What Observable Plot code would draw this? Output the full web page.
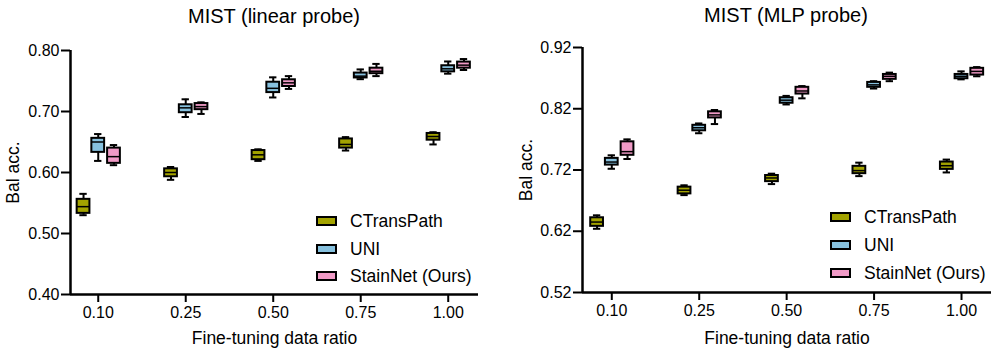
<!DOCTYPE html>
<html><head><meta charset="utf-8">
<script src="https://cdn.jsdelivr.net/npm/d3@7"></script>
<script src="https://cdn.jsdelivr.net/npm/@observablehq/plot@0.6"></script>
<style>
body{margin:0;background:#fff;font-family:"Liberation Sans",Arial,sans-serif;}
#root{position:relative;width:997px;height:350px;overflow:hidden;}
.panel{position:absolute;top:0;}
.title{position:absolute;font-size:20px;line-height:22px;color:#000;white-space:nowrap;transform:translateX(-50%);}
.li{position:absolute;white-space:nowrap;display:flex;align-items:center;font-size:17.5px;line-height:20px;color:#000;}
.sw{width:17px;height:6px;border:2px solid #000;margin-right:13px;}
</style></head>
<body><div id="root"></div>
<script>
const ratios = ["0.10","0.25","0.50","0.75","1.00"];
const methods = ["CTransPath","UNI","StainNet (Ours)"];
const colors = ["#a3a300","#87c1de","#f09ac6"];
const titles = ["MIST (linear probe)","MIST (MLP probe)"];
const yLabel = "Bal acc.";
const xLabel = "Fine-tuning data ratio";
const linearTicks = [0.40,0.50,0.60,0.70,0.80];
const mlpTicks = [0.52,0.62,0.72,0.82,0.92];
// each entry: [min, q1, median, q3, max] per ratio
const linearCTransPath = [[0.530,0.533,0.544,0.556,0.565],[0.588,0.593,0.600,0.606,0.609],[0.619,0.621,0.629,0.636,0.638],[0.636,0.640,0.646,0.655,0.658],[0.646,0.653,0.659,0.664,0.666]];
const linearUNI = [[0.619,0.633,0.650,0.656,0.663],[0.691,0.698,0.706,0.711,0.720],[0.723,0.731,0.738,0.748,0.756],[0.753,0.755,0.758,0.763,0.769],[0.762,0.765,0.770,0.775,0.782]];
const linearStainNet = [[0.612,0.615,0.626,0.640,0.645],[0.696,0.703,0.708,0.713,0.715],[0.737,0.741,0.747,0.752,0.758],[0.758,0.762,0.766,0.771,0.778],[0.768,0.771,0.776,0.781,0.786]];
const mlpCTransPath = [[0.624,0.628,0.635,0.642,0.646],[0.679,0.681,0.687,0.692,0.695],[0.697,0.701,0.707,0.711,0.714],[0.710,0.714,0.719,0.726,0.732],[0.716,0.721,0.727,0.733,0.737]];
const mlpUNI = [[0.722,0.728,0.733,0.739,0.744],[0.780,0.784,0.789,0.793,0.796],[0.827,0.829,0.834,0.838,0.841],[0.853,0.855,0.859,0.863,0.865],[0.868,0.869,0.873,0.876,0.881]];
const mlpStainNet = [[0.738,0.744,0.750,0.766,0.770],[0.795,0.805,0.810,0.815,0.818],[0.837,0.844,0.849,0.855,0.857],[0.865,0.868,0.873,0.876,0.879],[0.873,0.875,0.881,0.886,0.888]];

const offsets = [-0.168, 0, 0.18];
const hw = 0.073, cap = 0.042;
const FONT = "'Liberation Sans', Arial, sans-serif";

function panel(cfg) {
  const rows = [];
  cfg.stats.forEach((arr, j) => arr.forEach((s, i) => rows.push({
    ratio: ratios[i], method: methods[j], x: i + offsets[j],
    min: s[0], q1: s[1], med: s[2], q3: s[3], max: s[4]
  })));
  return Plot.plot({
    width: cfg.width, height: 350,
    marginLeft: cfg.ml, marginRight: cfg.mr, marginTop: cfg.mt, marginBottom: cfg.mb,
    style: {fontFamily: FONT, fontSize: "16px", color: "#000", background: "transparent", overflow: "visible"},
    x: {domain: cfg.xDomain, axis: null},
    y: {domain: [cfg.ticks[0], cfg.ticks[cfg.ticks.length - 1]], axis: null},
    color: {domain: methods, range: colors},
    marks: [
      Plot.axisX(ratios.map((r, i) => i), {tickFormat: i => ratios[i], tickSize: 8, tickPadding: 4, strokeWidth: 2, fontSize: 16, label: null}),
      Plot.axisY(cfg.ticks, {tickFormat: d => d.toFixed(2), tickSize: 9, tickPadding: 2, strokeWidth: 2, fontSize: 16, label: null}),
      Plot.ruleX([cfg.xDomain[0]], {strokeWidth: 2.5, stroke: "#000"}),
      Plot.ruleY([cfg.ticks[0]], {strokeWidth: 2.5, stroke: "#000"}),
      Plot.ruleX(rows, {x: "x", y1: "min", y2: "max", stroke: "#000", strokeWidth: 2}),
      Plot.ruleY(rows, {y: "min", x1: d => d.x - cap, x2: d => d.x + cap, stroke: "#000", strokeWidth: 2}),
      Plot.ruleY(rows, {y: "max", x1: d => d.x - cap, x2: d => d.x + cap, stroke: "#000", strokeWidth: 2}),
      Plot.rect(rows, {x1: d => d.x - hw, x2: d => d.x + hw, y1: "q1", y2: "q3", fill: "method", stroke: "#000", strokeWidth: 2}),
      Plot.ruleY(rows, {y: "med", x1: d => d.x - hw, x2: d => d.x + hw, stroke: "#000", strokeWidth: 1.5}),
      Plot.text([yLabel], {frameAnchor: "left", dx: cfg.yLabelDx, rotate: -90, fontSize: 17.5, textAnchor: "middle", lineAnchor: "middle"}),
      Plot.text([xLabel], {frameAnchor: "bottom", dy: cfg.xLabelDy, fontSize: 17.5, textAnchor: "middle", lineAnchor: "middle"})
    ]
  });
}

const root = document.getElementById("root");
const panels = [
  {left: 0, width: 498, ml: 70, mr: 20, mt: 50, mb: 56, xDomain: [-0.317, 4.346], ticks: linearTicks,
   stats: [linearCTransPath, linearUNI, linearStainNet], yLabelDx: -57, xLabelDy: 44,
   titleX: 274, titleY: 5, legX: 316, legY: [221, 248.5, 276]},
  {left: 498, width: 499, ml: 84, mr: 6, mt: 47, mb: 58, xDomain: [-0.335, 4.343], ticks: mlpTicks,
   stats: [mlpCTransPath, mlpUNI, mlpStainNet], yLabelDx: -56, xLabelDy: 46,
   titleX: 786, titleY: 4, legX: 830, legY: [217, 245, 272.7]}
];
panels.forEach((p, k) => {
  const div = document.createElement("div");
  div.className = "panel";
  div.style.left = p.left + "px";
  div.appendChild(panel(p));
  root.appendChild(div);
  const t = document.createElement("div");
  t.className = "title";
  t.textContent = titles[k];
  t.style.left = p.titleX + "px";
  t.style.top = p.titleY + "px";
  root.appendChild(t);
  methods.forEach((m, j) => {
    const li = document.createElement("div");
    li.className = "li";
    li.style.left = p.legX + "px";
    li.style.top = (p.legY[j] - 10) + "px";
    const sw = document.createElement("span");
    sw.className = "sw";
    sw.style.background = colors[j];
    li.appendChild(sw);
    li.appendChild(document.createTextNode(m));
    root.appendChild(li);
  });
});
</script></body></html>
